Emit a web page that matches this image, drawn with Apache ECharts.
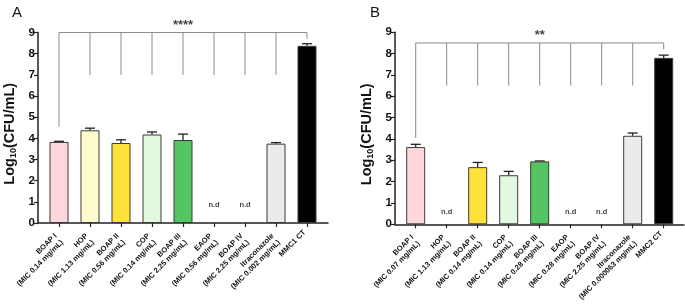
<!DOCTYPE html>
<html>
<head>
<meta charset="utf-8">
<script src="https://cdn.jsdelivr.net/npm/echarts@6/dist/echarts.min.js"></script>
<style>
  html, body { margin: 0; padding: 0; background: #fff; }
  #chart { width: 685px; height: 304px; }
</style>
</head>
<body>
<div id="chart"></div>
<script>
// panel A
const categoriesA = ['BOAP I\n(MIC 0.14 mg/mL)', 'HOP\n(MIC 1.13 mg/mL)', 'BOAP II\n(MIC 0.56 mg/mL)', 'COP\n(MIC 0.14 mg/mL)',
  'BOAP III\n(MIC 2.25 mg/mL)', 'EAOP\n(MIC 0.56 mg/mL)', 'BOAP IV\n(MIC 2.25 mg/mL)', 'Itraconazole\n(MIC 0.002 mg/mL)', 'MMC1 CT'];
const valuesA = [3.83, 4.38, 3.78, 4.18, 3.92, null, null, 3.75, 8.37];
const errorsA = [0.03, 0.10, 0.15, 0.12, 0.28, null, null, 0.05, 0.10];
const bracketTopA = 9;
const bracketDropA = [4.55, 7, 7, 7, 7, 7, 7, 7, 8.7];
const sigA = '****';
const sigLevelA = 9.35;
const ndLevelA = 0.85;

// panel B
const categoriesB = ['BOAP I\n(MIC 0.07 mg/mL)', 'HOP\n(MIC 1.13 mg/mL)', 'BOAP II\n(MIC 0.14 mg/mL)', 'COP\n(MIC 0.14 mg/mL)',
  'BOAP III\n(MIC 0.28 mg/mL)', 'EAOP\n(MIC 0.28 mg/mL)', 'BOAP IV\n(MIC 2.25 mg/mL)', 'Itraconazole\n(MIC 0.000063 mg/mL)', 'MMC2 CT'];
const valuesB = [3.62, null, 2.68, 2.30, 2.95, null, null, 4.15, 7.80];
const errorsB = [0.13, null, 0.22, 0.18, 0.02, null, null, 0.13, 0.13];
const bracketTopB = 8.5;
const bracketDropB = [4.05, 6.5, 6.5, 6.5, 6.5, 6.5, 6.5, 6.5, 8.2];
const sigB = '**';
const sigLevelB = 8.85;
const ndLevelB = 0.56;

const yTicks = [0, 1, 2, 3, 4, 5, 6, 7, 8, 9];
const barColors = ['#ffd7db', '#fffbcc', '#ffe13c', '#e1f8e1', '#55c462', '#ffffff', '#ffffff', '#ebebeb', '#000000'];

const FONT = 'Liberation Sans';
const AXIS = '#222';

const chart = echarts.init(document.getElementById('chart'), null, { renderer: 'canvas' });

function errItem(params, api) {
  const x = api.value(0), v = api.value(1), e = api.value(2);
  const p0 = api.coord([x, v]);
  const p1 = api.coord([x, v + e]);
  return {
    type: 'group',
    children: [
      { type: 'line', shape: { x1: p0[0], y1: p0[1], x2: p1[0], y2: p1[1] }, style: { stroke: AXIS, lineWidth: 1.3 } },
      { type: 'line', shape: { x1: p1[0] - 5, y1: p1[1], x2: p1[0] + 5, y2: p1[1] }, style: { stroke: AXIS, lineWidth: 1.3 } }
    ]
  };
}

function bracketItem(n) {
  return function (params, api) {
    const i = api.value(0), top = api.value(1), drop = api.value(2);
    const a = api.coord([i, top]);
    const b = api.coord([i, drop]);
    const children = [
      { type: 'line', shape: { x1: a[0], y1: a[1], x2: b[0], y2: b[1] }, style: { stroke: '#8c8c8c', lineWidth: 1 } }
    ];
    if (i < n - 1) {
      const c = api.coord([i + 1, top]);
      children.push({ type: 'line', shape: { x1: a[0], y1: a[1], x2: c[0], y2: c[1] }, style: { stroke: '#8c8c8c', lineWidth: 1 } });
    }
    return { type: 'group', children };
  };
}

// single-line labels sit higher than the two-line ones in the original
function labelFmt(v) {
  const parts = v.split('\n');
  if (parts.length === 1) return '{m|' + v + '}';
  return parts.map(s => '{c|' + s + '}').join('\n');
}

const labelStyle = { fontSize: 7.5, fontWeight: 'bold', fontFamily: FONT, color: '#111', lineHeight: 9 };

function buildPanel(p) {
  const { frameGrid, barGrid, cats, vals, errs, top, drops, sig, sigLevel, ndLevel } = p;
  const n = cats.length;
  const fx = frameGrid, bx = barGrid;
  const xAxes = [
    { gridIndex: fx, type: 'value', min: 0, max: 1, axisLine: { show: true, onZero: false, lineStyle: { color: AXIS, width: 1.5 } },
      axisTick: { show: false }, axisLabel: { show: false }, splitLine: { show: false } },
    { gridIndex: bx, type: 'category', data: cats, axisLine: { show: false },
      axisTick: { show: true, alignWithLabel: true, length: 4, lineStyle: { color: AXIS, width: 1.2 } },
      axisLabel: { rotate: 45, margin: 15, interval: 0, formatter: labelFmt,
        rich: { c: labelStyle, m: Object.assign({}, labelStyle, { padding: [0, -3, 13, 0] }) } } }
  ];
  const yAxes = [
    { gridIndex: fx, type: 'value', min: yTicks[0], max: yTicks[yTicks.length - 1], interval: 1,
      axisLine: { show: true, lineStyle: { color: AXIS, width: 1.5 } },
      axisTick: { show: true, length: 4, lineStyle: { color: AXIS, width: 1.2 } },
      axisLabel: { margin: 3, fontSize: 11.5, fontWeight: 'bold', fontFamily: FONT, color: '#111' },
      splitLine: { show: false },
      name: '{a|Log}{s|10}{a|(CFU/mL)}', nameLocation: 'middle', nameRotate: 90, nameGap: 20,
      nameTextStyle: { padding: [0, 12, 0, 0], rich: {
        a: { fontSize: 14.5, fontWeight: 'bold', fontFamily: FONT, color: '#111' },
        s: { fontSize: 9, fontWeight: 'bold', fontFamily: FONT, color: '#111', padding: [8, 0, 0, 0] }
      } } },
    { gridIndex: bx, type: 'value', min: yTicks[0], max: yTicks[yTicks.length - 1], show: false }
  ];
  return { xAxes, yAxes, series: (xi, yi) => [
    { type: 'bar', xAxisIndex: xi, yAxisIndex: yi, barWidth: 19,
      data: vals.map((v, i) => v == null ? '-' : { value: v, itemStyle: { color: barColors[i] } }),
      itemStyle: { borderColor: '#3a3a3a', borderWidth: 1 }, silent: true },
    { type: 'custom', xAxisIndex: xi, yAxisIndex: yi, renderItem: errItem, encode: { x: 0, y: 1 },
      data: vals.map((v, i) => v == null ? null : [i, v, errs[i]]).filter(d => d) },
    { type: 'custom', xAxisIndex: xi, yAxisIndex: yi, renderItem: bracketItem(n), encode: { x: 0, y: 1 }, clip: false,
      data: drops.map((d, i) => [i, top, d]) },
    { type: 'scatter', xAxisIndex: xi, yAxisIndex: yi, symbolSize: 0, clip: false,
      data: vals.map((v, i) => v == null ? ndLevel : '-'),
      label: { show: true, position: 'inside', formatter: 'n.d', fontSize: 7.5, fontWeight: 'bold', fontFamily: FONT, color: '#111' } },
    { type: 'scatter', xAxisIndex: xi, yAxisIndex: yi, symbolSize: 0, clip: false,
      data: cats.map((c, i) => i === 4 ? sigLevel : '-'),
      label: { show: true, position: 'inside', formatter: sig, fontSize: 13, fontWeight: 'bold', fontFamily: FONT, color: '#111' } }
  ] };
}

const pA = buildPanel({ frameGrid: 0, barGrid: 1, cats: categoriesA, vals: valuesA, errs: errorsA, top: bracketTopA, drops: bracketDropA, sig: sigA, sigLevel: sigLevelA, ndLevel: ndLevelA });
const pB = buildPanel({ frameGrid: 2, barGrid: 3, cats: categoriesB, vals: valuesB, errs: errorsB, top: bracketTopB, drops: bracketDropB, sig: sigB, sigLevel: sigLevelB, ndLevel: ndLevelB });

const option = {
  backgroundColor: '#fff',
  animation: false,
  title: [
    { text: 'A', left: 7, top: 0, textStyle: { fontSize: 15, fontWeight: 'normal', fontFamily: FONT, color: '#111' } },
    { text: 'B', left: 365, top: 0, textStyle: { fontSize: 15, fontWeight: 'normal', fontFamily: FONT, color: '#111' } }
  ],
  grid: [
    { left: 38, top: 32.5, width: 290, height: 190.5 },
    { left: 43.5, top: 32.5, width: 279, height: 190.5 },
    { left: 395, top: 32.3, width: 289, height: 192 },
    { left: 400.2, top: 32.3, width: 279, height: 192 }
  ],
  xAxis: [...pA.xAxes, ...pB.xAxes],
  yAxis: [...pA.yAxes, ...pB.yAxes],
  series: [...pA.series(1, 1), ...pB.series(3, 3)]
};

chart.setOption(option);
</script>
</body>
</html>
